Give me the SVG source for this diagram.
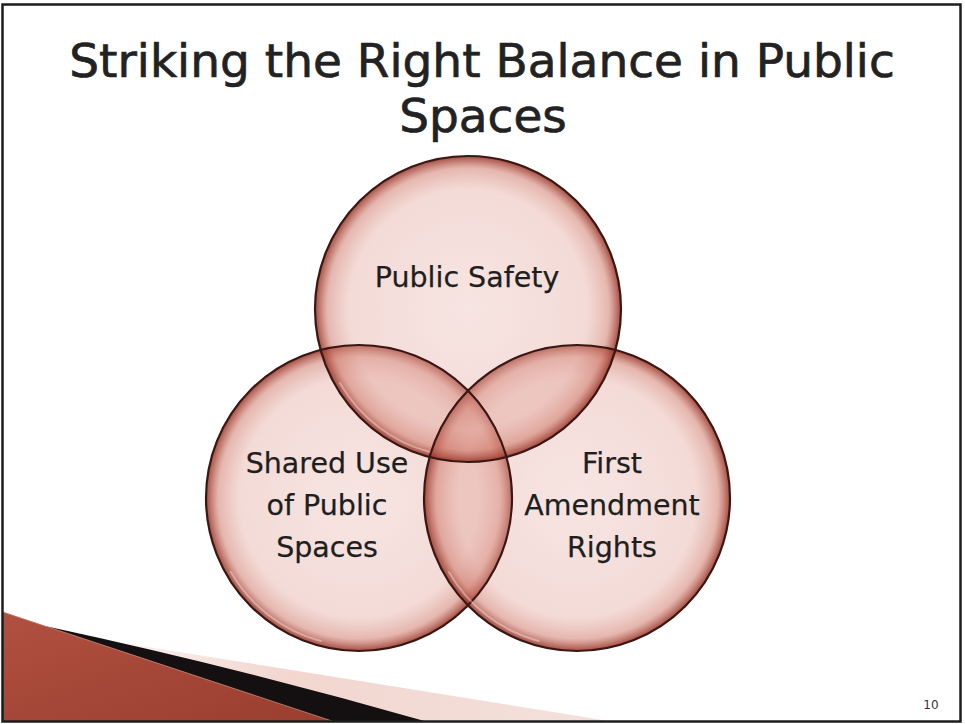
<svg xmlns="http://www.w3.org/2000/svg" width="965" height="724" viewBox="0 0 965 724">
  <style>
    .title { font-family: "DejaVu Sans", "Liberation Sans", sans-serif; font-size: 47px; fill: #222222; stroke: #222222; stroke-width: 0.7; text-anchor: middle; }
    .label { font-family: "DejaVu Sans", "Liberation Sans", sans-serif; font-size: 28.5px; fill: #1e1e1e; stroke: #1e1e1e; stroke-width: 0.25; text-anchor: middle; }
    .pagenum { font-family: "DejaVu Sans", "Liberation Sans", sans-serif; font-size: 12px; fill: #333333; text-anchor: middle; }
    .disc { fill: url(#bubble); }
    .rim { fill: none; stroke: #3a1712; stroke-width: 2.2; }
    .gloss { fill: none; stroke: #ffffff; stroke-opacity: 0.35; stroke-width: 2; stroke-linecap: round; }
  </style>
  <defs>
    <radialGradient id="bubble" cx="0.5" cy="0.5" r="0.5">
      <stop offset="0" stop-color="rgb(230,176,168)" stop-opacity="0.33"/>
      <stop offset="0.78" stop-color="rgb(226,164,154)" stop-opacity="0.40"/>
      <stop offset="0.92" stop-color="rgb(205,116,100)" stop-opacity="0.52"/>
      <stop offset="1" stop-color="rgb(150,50,38)" stop-opacity="0.88"/>
    </radialGradient>
    <linearGradient id="redFill" x1="0" y1="0" x2="1" y2="1">
      <stop offset="0" stop-color="#b05040"/>
      <stop offset="1" stop-color="#9a3e30"/>
    </linearGradient>
    <linearGradient id="pinkBand" x1="0" y1="0" x2="1" y2="0">
      <stop offset="0" stop-color="#fcf3f1"/>
      <stop offset="0.35" stop-color="#f2d6cf"/>
      <stop offset="1" stop-color="#f4e1dc"/>
    </linearGradient>
  </defs>

  <!-- slide background -->
  <rect x="0" y="0" width="965" height="724" fill="#ffffff"/>

  <!-- corner swoosh, bottom left -->
  <g id="swoosh">
    <path d="M 110 641 Q 330 676 615 722 L 110 722 Z" fill="url(#pinkBand)"/>
    <path d="M 3 612 L 45 626 Q 240 668 428 722 L 3 722 Z" fill="#141012"/>
    <path d="M 3 612 L 335 722 L 3 722 Z" fill="url(#redFill)"/>
    <path d="M 3 612 L 335 722" stroke="#e8a898" stroke-opacity="0.6" stroke-width="1" fill="none"/>
  </g>

  <!-- slide frame -->
  <rect x="2.5" y="4.5" width="958" height="717" fill="none" stroke="#1c1c1c" stroke-width="2.5"/>

  <!-- title -->
  <text class="title" x="482" y="77">Striking the Right Balance in Public</text>
  <text class="title" x="483" y="132">Spaces</text>

  <!-- Venn discs: fills first so every outline stays visible -->
  <g id="venn-fills">
    <circle class="disc" cx="359" cy="498" r="153"/>
    <circle class="disc" cx="577" cy="498" r="153"/>
    <circle class="disc" cx="468" cy="309" r="153"/>
  </g>

  <g id="node-public-safety">
    <path class="gloss" transform="translate(468 309)" d="M -38.3 143 A 148 148 0 0 1 -128.2 74"/>
    <circle class="rim" cx="468" cy="309" r="153"/>
    <text class="label" x="467" y="287">Public Safety</text>
  </g>

  <g id="node-shared-use">
    <path class="gloss" transform="translate(359 498)" d="M -38.3 143 A 148 148 0 0 1 -128.2 74"/>
    <circle class="rim" cx="359" cy="498" r="153"/>
    <text class="label" x="327" y="473">Shared Use</text>
    <text class="label" x="327" y="515">of Public</text>
    <text class="label" x="327" y="557">Spaces</text>
  </g>

  <g id="node-first-amendment">
    <path class="gloss" transform="translate(577 498)" d="M -38.3 143 A 148 148 0 0 1 -128.2 74"/>
    <circle class="rim" cx="577" cy="498" r="153"/>
    <text class="label" x="612" y="473">First</text>
    <text class="label" x="612" y="515">Amendment</text>
    <text class="label" x="612" y="557">Rights</text>
  </g>

  <!-- connectors: none in this diagram -->
  <g id="connectors"/>

  <text class="pagenum" x="931" y="709">10</text>
</svg>
